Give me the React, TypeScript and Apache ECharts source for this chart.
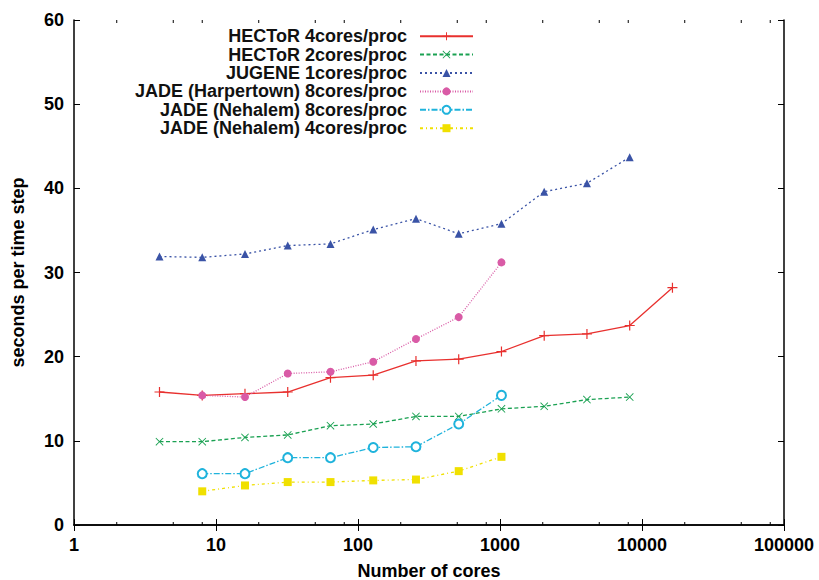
import React, { useEffect, useRef } from "react";
import * as echarts from "echarts";

const FONT = "'Liberation Sans', Arial, Helvetica, sans-serif";

const coresAll = [4, 8, 16, 32, 64, 128, 256, 512, 1024, 2048, 4096, 8192, 16384];
const coresHector2 = [4, 8, 16, 32, 64, 128, 256, 512, 1024, 2048, 4096, 8192];
const coresJugene = [4, 8, 16, 32, 64, 128, 256, 512, 1024, 2048, 4096, 8192];
const coresJade = [8, 16, 32, 64, 128, 256, 512, 1024];

const hector4 = [15.8, 15.4, 15.6, 15.8, 17.5, 17.8, 19.5, 19.7, 20.6, 22.5, 22.7, 23.7, 28.2];
const hector2 = [9.9, 9.9, 10.4, 10.7, 11.8, 12.0, 12.9, 12.9, 13.8, 14.1, 14.9, 15.2];
const jugene = [31.9, 31.8, 32.2, 33.2, 33.4, 35.1, 36.4, 34.6, 35.8, 39.6, 40.6, 43.7];
const harpertown = [15.4, 15.2, 18.0, 18.2, 19.4, 22.1, 24.7, 31.2];
const nehalem8 = [6.1, 6.1, 8.0, 8.0, 9.2, 9.3, 12.0, 15.4];
const nehalem4 = [4.0, 4.7, 5.1, 5.1, 5.3, 5.4, 6.4, 8.1];

const seriesNames = [
  "HECToR 4cores/proc",
  "HECToR 2cores/proc",
  "JUGENE 1cores/proc",
  "JADE (Harpertown) 8cores/proc",
  "JADE (Nehalem) 8cores/proc",
  "JADE (Nehalem) 4cores/proc",
];

const minorTickValues = [2, 5, 8, 20, 50, 80, 200, 500, 800, 2000, 5000, 8000, 20000, 50000, 80000];

const xMin = 1;
const xMax = 100000;
const yMin = 0;
const yMax = 60;
const yInterval = 10;

const PLUS = "path://M4.4,0H5.6V4.4H10V5.6H5.6V10H4.4V5.6H0V4.4H4.4Z";
const CROSS = "path://M0,0.8L0.8,0L5,4.2L9.2,0L10,0.8L5.8,5L10,9.2L9.2,10L5,5.8L0.8,10L0,9.2L4.2,5Z";

function zip(xs: number[], ys: number[]) {
  return ys.map((y, i) => [xs[i], y]);
}

export default function App() {
  const ref = useRef<HTMLDivElement>(null);
  useEffect(() => {
    if (!ref.current) return;
    const chart = echarts.init(ref.current, undefined, { renderer: "svg" });
    const axisLine = { show: true, lineStyle: { color: "#000", width: 1.5 } };
    const labelStyle = { color: "#000", fontFamily: FONT, fontWeight: "bold" as const, fontSize: 18 };

    const mk = (
      name: string,
      data: number[][],
      color: string,
      type: any,
      symbol: string,
      size: number
    ) => ({
      name,
      type: "line",
      data,
      xAxisIndex: 0,
      yAxisIndex: 0,
      symbol,
      symbolSize: size,
      showAllSymbol: true,
      lineStyle: { color, width: 1.3, type },
      itemStyle: { color },
      z: 3,
    });

    chart.setOption({
      animation: false,
      grid: { left: 74, top: 20, right: 35, bottom: 55, containLabel: false, outerBoundsMode: "none" },
      legend: {
        data: seriesNames,
        orient: "vertical",
        align: "right",
        right: 340,
        top: 22,
        itemWidth: 53,
        itemHeight: 10,
        itemGap: 0,
        selectedMode: false,
        textStyle: {
          color: "#111",
          fontFamily: FONT,
          fontWeight: "bold",
          fontSize: 18,
          lineHeight: 18.4,
          padding: [0, 8, 0, 0],
        },
      },
      xAxis: [
        {
          type: "log",
          logBase: 10,
          min: xMin,
          max: xMax,
          position: "bottom",
          name: "Number of cores",
          nameLocation: "middle",
          nameGap: 38,
          nameTextStyle: { ...labelStyle, lineHeight: 16 },
          axisLine,
          axisTick: { show: true, inside: true, length: 6, lineStyle: { color: "#000", width: 1 } },
          axisLabel: { ...labelStyle, margin: 11, formatter: (v: number) => String(Math.round(v)) },
          splitLine: { show: false },
        },
        {
          type: "log",
          logBase: 10,
          min: xMin,
          max: xMax,
          position: "top",
          axisLine,
          axisTick: { show: true, inside: true, length: 6, lineStyle: { color: "#000", width: 1 } },
          axisLabel: { show: false },
          splitLine: { show: false },
        },
      ],
      yAxis: [
        {
          type: "value",
          min: yMin,
          max: yMax,
          interval: yInterval,
          position: "left",
          name: "seconds per time step",
          nameLocation: "middle",
          nameGap: 47,
          nameRotate: 90,
          nameTextStyle: { ...labelStyle },
          axisLine,
          axisTick: { show: true, inside: true, length: 6, lineStyle: { color: "#000", width: 1 } },
          axisLabel: { ...labelStyle, margin: 10 },
          splitLine: { show: false },
        },
        {
          type: "value",
          min: yMin,
          max: yMax,
          interval: yInterval,
          position: "right",
          axisLine,
          axisTick: { show: true, inside: true, length: 6, lineStyle: { color: "#000", width: 1 } },
          axisLabel: { show: false },
          splitLine: { show: false },
        },
      ],
      series: [
        mk(seriesNames[0], zip(coresAll, hector4), "#e8302e", "solid", PLUS, 10),
        mk(seriesNames[1], zip(coresHector2, hector2), "#1aa152", [4, 2.5], CROSS, 8),
        mk(seriesNames[2], zip(coresJugene, jugene), "#3a53a6", [2, 3], "triangle", 8),
        mk(seriesNames[3], zip(coresJade, harpertown), "#d95ba6", [1, 1.5], "circle", 8),
        {
          ...mk(seriesNames[4], zip(coresJade, nehalem8), "#1fb3dc", [6, 2, 1.5, 2], "emptyCircle", 9),
          itemStyle: { color: "#1fb3dc", borderWidth: 1.4 },
        },
        mk(seriesNames[5], zip(coresJade, nehalem4), "#f0e000", [3, 3, 1, 3], "rect", 8),
        {
          type: "custom",
          silent: true,
          xAxisIndex: 0,
          yAxisIndex: 0,
          data: minorTickValues.map((v) => [v, yMin]),
          encode: { x: 0, y: 1 },
          z: 1,
          renderItem: (params: any, api: any) => {
            const x = api.value(0);
            const b = api.coord([x, yMin]);
            const t = api.coord([x, yMax]);
            return {
              type: "group",
              children: [
                { type: "line", shape: { x1: b[0], y1: b[1], x2: b[0], y2: b[1] - 3 }, style: { stroke: "#000", lineWidth: 1 } },
                { type: "line", shape: { x1: t[0], y1: t[1], x2: t[0], y2: t[1] + 3 }, style: { stroke: "#000", lineWidth: 1 } },
              ],
            };
          },
        },
      ],
    });
    return () => chart.dispose();
  }, []);
  return (
    <div
      ref={ref}
      style={{ position: "fixed", left: 0, top: 0, width: 819, height: 580, background: "#fff" }}
    />
  );
}
